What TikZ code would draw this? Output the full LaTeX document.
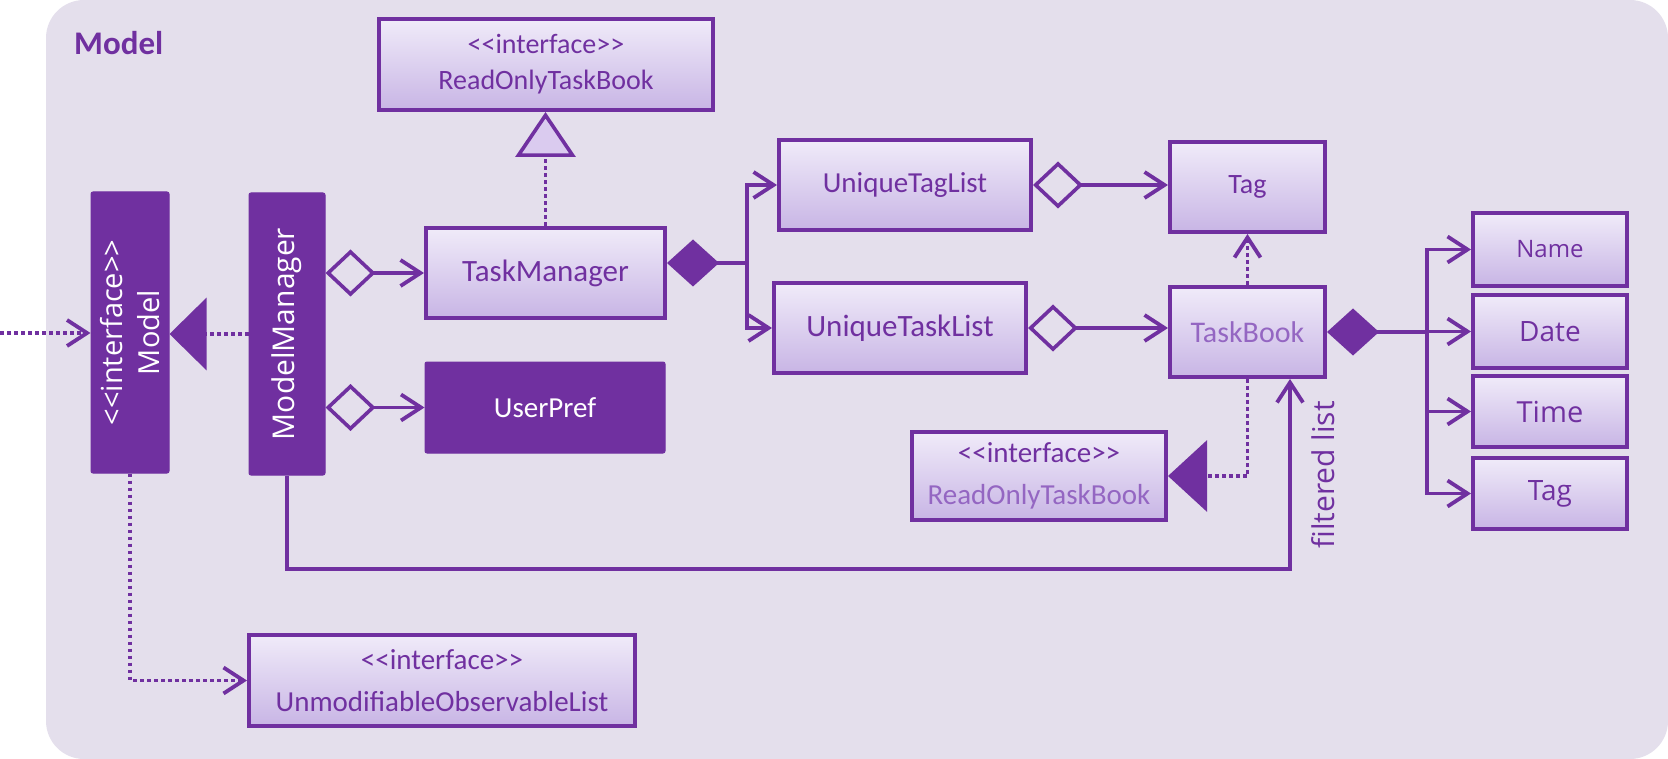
\documentclass[tikz,border=0pt]{standalone}
\usepackage{fontspec}
\setmainfont{Carlito}
\newfontfamily\osans{Open Sans}
\usetikzlibrary{arrows.meta}
\definecolor{mpurple}{HTML}{7030A0}
\definecolor{panelbg}{HTML}{E4DFEC}
\definecolor{boxtop}{HTML}{F0EBF9}
\definecolor{boxbot}{HTML}{C8B5E5}
\definecolor{lighttext}{HTML}{9466C2}
\definecolor{trifill}{HTML}{DACBEF}
\newcommand{\ifc}{<\kern0pt<interface>\kern0pt>}
\tikzset{
  oarr/.tip={Straight Barb[length=20pt,width=26pt,line width=3.8pt]},
  hdia/.tip={Diamond[open,length=50pt,width=47pt,line width=3.6pt]},
  fdia/.tip={Diamond[length=52pt,width=47pt]},
  htri/.tip={Triangle[length=45pt,width=60pt,fill=trifill,line width=3.6pt]},
  ftri/.tip={Triangle[length=37pt,width=72pt]},
  ftrib/.tip={Triangle[length=39pt,width=71pt]},
  umlbox/.style={draw=mpurple, line width=4pt, top color=boxtop, bottom color=boxbot,
    inner sep=0pt, text=mpurple, align=center},
  darkbox/.style={fill=mpurple, draw=mpurple, line width=1pt, rounded corners=2pt, inner sep=0pt},
  conn/.style={draw=mpurple, line width=3.3pt},
  dotconn/.style={conn, dash pattern=on 3.5pt off 3.5pt},
}
\begin{document}
\begin{tikzpicture}[x=1pt,y=-1pt]
\useasboundingbox (0,0) rectangle (1668,759);
\fill[panelbg, rounded corners=38pt] (46,0) rectangle (1668,759);
\node[anchor=base west, text=mpurple, font=\bfseries\fontsize{33}{40}\selectfont, inner sep=0pt] (title) at (74,55) {Model};

% boxes
\node[umlbox, minimum width=334pt, minimum height=91pt, font=\fontsize{28}{36}\selectfont] (rotb) at (546,64.5) {\ifc\\ReadOnlyTaskBook};
\node[umlbox, minimum width=239pt, minimum height=90pt, font=\fontsize{31}{37}\selectfont] (tm) at (545.5,273) {TaskManager};
\node[darkbox, minimum width=240pt, minimum height=91pt, text=white, font=\fontsize{29}{35}\selectfont] (up) at (545,407.5) {UserPref};
\node[darkbox, minimum width=78pt, minimum height=281pt] (model) at (130,332.5) {};
\node[text=white, rotate=90, align=center, inner sep=0pt, font=\osans\fontsize{29}{37}\selectfont] (modeltext) at (model.center) {\ifc\\Model};
\node[darkbox, minimum width=76pt, minimum height=282pt] (mm) at (287,334) {};
\node[text=white, rotate=90, inner sep=0pt, font=\osans\fontsize{30}{36}\selectfont] (mmtext) at (mm.center) {ModelManager};
\node[umlbox, minimum width=252pt, minimum height=90pt, font=\fontsize{29}{35}\selectfont] (utl) at (905,185) {UniqueTagList};
\node[umlbox, minimum width=252pt, minimum height=90pt, font=\fontsize{31}{37}\selectfont] (utkl) at (900,328) {UniqueTaskList};
\node[umlbox, minimum width=155pt, minimum height=90pt, font=\fontsize{28}{34}\selectfont] (tag) at (1247.5,187) {Tag};
\node[umlbox, minimum width=155pt, minimum height=90pt, text=lighttext, font=\fontsize{30}{36}\selectfont] (tb) at (1247.5,332) {TaskBook};
\node[umlbox, minimum width=254pt, minimum height=88pt, font=\fontsize{29}{42}\selectfont] (rotb2) at (1039,476) {\ifc\\\textcolor{lighttext}{ReadOnlyTaskBook}};
\node[umlbox, minimum width=386pt, minimum height=91pt, font=\fontsize{29}{42}\selectfont] (uol) at (442,680.5) {\ifc\\UnmodifiableObservableList};
\node[umlbox, minimum width=154pt, minimum height=73pt, font=\osans\fontsize{24}{29}\selectfont] (name) at (1550,249.5) {Name};
\node[umlbox, minimum width=154pt, minimum height=73pt, font=\osans\fontsize{28}{33}\selectfont] (date) at (1550,331.5) {Date};
\node[umlbox, minimum width=154pt, minimum height=71pt, font=\osans\fontsize{29}{34}\selectfont] (time) at (1550,411.5) {Time};
\node[umlbox, minimum width=154pt, minimum height=71pt, font=\osans\fontsize{28}{33}\selectfont] (tag2) at (1550,493.5) {Tag};

% connectors
\coordinate (ext) at (0,333);
\draw[dotconn, -{oarr}] (ext) -- (ext -| model.west);
\draw[dotconn, -{ftri}] (mm.west) -- (mm.west -| model.east);
\draw[dotconn, -{htri}] (tm.north) -- (tm.north |- rotb.south);
\draw[conn, {hdia}-{oarr}] (mm.east |- tm.west) -- (tm.west);
\draw[conn, {hdia}-{oarr}] (mm.east |- up.west) -- (up.west);
\coordinate (bus1) at (747,263);
\draw[conn, {fdia}-] ([yshift=10pt]tm.east) -- (bus1);
\draw[conn, -{oarr}] (bus1) |- (utl.west);
\draw[conn, -{oarr}] (bus1) |- (utkl.west);
\draw[conn, {hdia}-{oarr}] (utl.east) -- (utl.east -| tag.west);
\draw[conn, {hdia}-{oarr}] (utkl.east) -- (utkl.east -| tb.west);
\draw[dotconn, -{oarr}] (tb.north) -- (tag.south);
\draw[dotconn, -{ftrib}] (tb.south) |- (rotb2.east);
\coordinate (bus2) at (1427,332);
\draw[conn, {fdia}-] (tb.east) -- (bus2);
\draw[conn, -{oarr}] (bus2) |- (name.west);
\draw[conn, -{oarr}] (bus2) |- (date.west);
\draw[conn, -{oarr}] (bus2) |- (time.west);
\draw[conn, -{oarr}] (bus2) |- (tag2.west);
\coordinate (fl) at (1290,569);
\draw[conn, -{oarr}] (mm.south) |- (fl) -- (fl |- tb.south);
\node[rotate=90, text=mpurple, inner sep=0pt, font=\osans\fontsize{30}{36}\selectfont] (fltext) at (1323,475) {filtered list};
\draw[dotconn, -{oarr}] (model.south) |- (uol.west);
\end{tikzpicture}
\end{document}
